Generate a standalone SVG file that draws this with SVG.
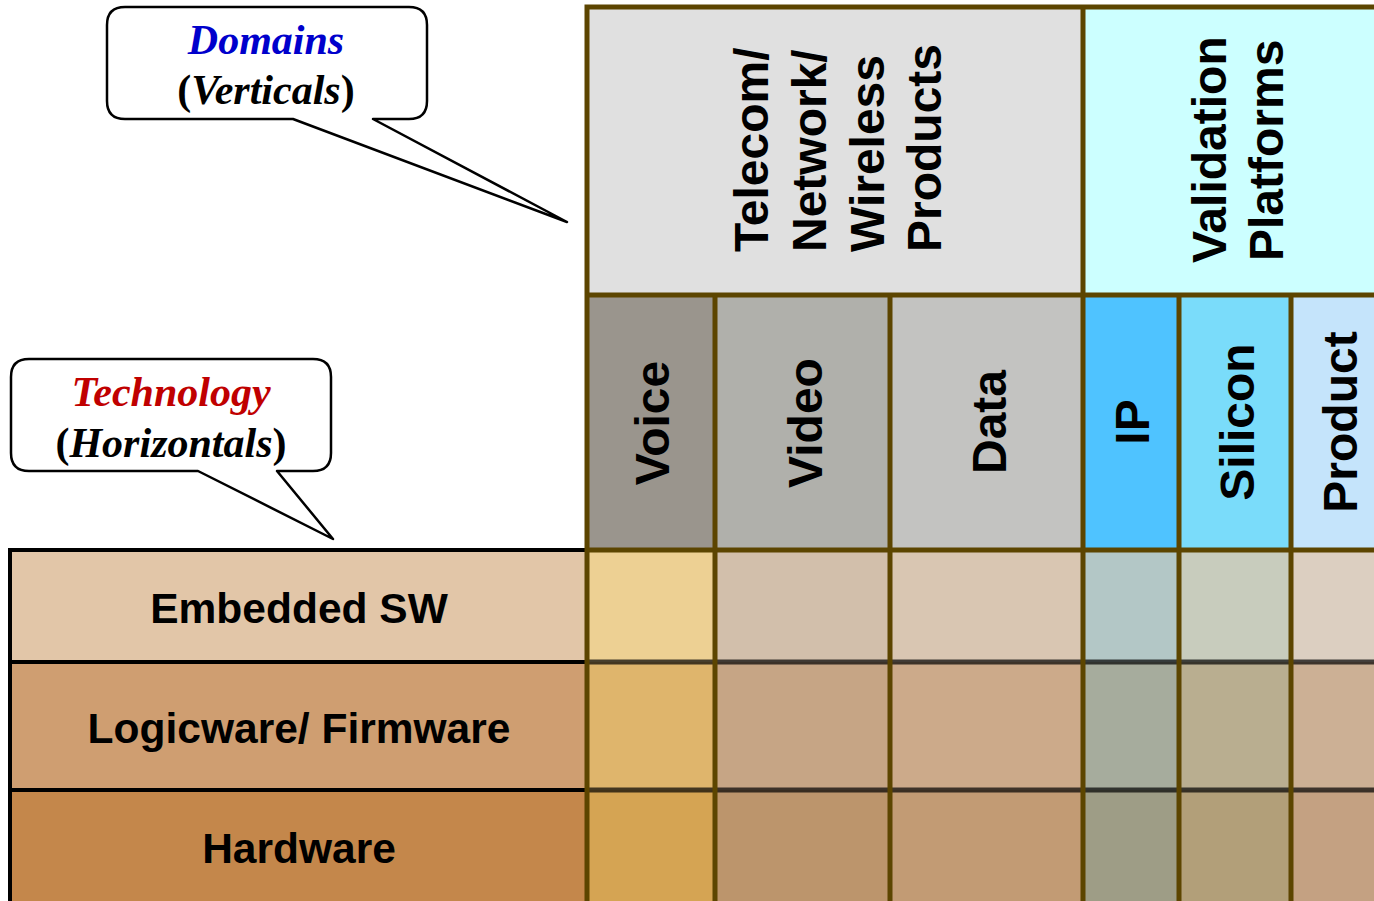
<svg xmlns="http://www.w3.org/2000/svg" width="1374" height="901" viewBox="0 0 1374 901">
<style>
.grid{stroke:#5c4500;stroke-width:5;fill:none}
.sep{stroke:#000;stroke-opacity:0.7;stroke-width:5}
.blk{stroke:#000;stroke-width:4;fill:none}
.vt{font-family:"Liberation Sans",Arial,sans-serif;font-weight:bold;font-size:48px;fill:#000}
.rt{font-family:"Liberation Sans",Arial,sans-serif;font-weight:bold;font-size:42.5px;fill:#000;text-anchor:middle}
.co{font-family:"Liberation Serif","Times New Roman",serif;font-weight:bold;font-style:italic;font-size:42px;text-anchor:middle}
.up{font-style:normal}
.bubble{fill:#fff;stroke:#000;stroke-width:2.5;stroke-linejoin:round}
</style>
<rect width="1374" height="901" fill="#fff"/>

<g id="header">
<rect x="587" y="7" width="496" height="288" fill="#e0e0e0"/>
<rect x="1083" y="7" width="291" height="288" fill="#ccffff"/>
<g class="vt">
<text transform="translate(768,252) rotate(-90)">Telecom/</text>
<text transform="translate(826,252) rotate(-90)">Network/</text>
<text transform="translate(884,252) rotate(-90)">Wireless</text>
<text transform="translate(941,252) rotate(-90)">Products</text>
<text transform="translate(1226,263) rotate(-90)">Validation</text>
<text transform="translate(1283,261) rotate(-90)">Platforms</text>
</g>
</g>

<g id="subheader">
<rect x="587" y="295" width="128" height="255" fill="#9a958d"/>
<rect x="715" y="295" width="175" height="255" fill="#b0b0ab"/>
<rect x="890" y="295" width="193" height="255" fill="#c3c3c1"/>
<rect x="1083" y="295" width="96" height="255" fill="#4fc3ff"/>
<rect x="1179" y="295" width="112" height="255" fill="#7adcfa"/>
<rect x="1291" y="295" width="83" height="255" fill="#c5e4fb"/>
<g class="vt" text-anchor="middle">
<text transform="translate(669,423) rotate(-90)">Voice</text>
<text transform="translate(822,423) rotate(-90)">Video</text>
<text transform="translate(1006,422) rotate(-90)">Data</text>
<text transform="translate(1149,422) rotate(-90)">IP</text>
<text transform="translate(1254,422) rotate(-90)">Silicon</text>
<text transform="translate(1357,422) rotate(-90)">Product</text>
</g>
</g>

<g id="cells">
<rect x="587" y="550" width="128" height="112" fill="#edd093"/>
<rect x="715" y="550" width="175" height="112" fill="#d2bfab"/>
<rect x="890" y="550" width="193" height="112" fill="#d9c6b2"/>
<rect x="1083" y="550" width="96" height="112" fill="#b3c7c6"/>
<rect x="1179" y="550" width="112" height="112" fill="#c8ccbd"/>
<rect x="1291" y="550" width="83" height="112" fill="#dccfc1"/>
<rect x="587" y="662" width="128" height="128" fill="#dfb56c"/>
<rect x="715" y="662" width="175" height="128" fill="#c6a585"/>
<rect x="890" y="662" width="193" height="128" fill="#ccaa8a"/>
<rect x="1083" y="662" width="96" height="128" fill="#a6ac9d"/>
<rect x="1179" y="662" width="112" height="128" fill="#b9ae90"/>
<rect x="1291" y="662" width="83" height="128" fill="#ccb095"/>
<rect x="587" y="790" width="128" height="111" fill="#d5a453"/>
<rect x="715" y="790" width="175" height="111" fill="#bc956c"/>
<rect x="890" y="790" width="193" height="111" fill="#c29b74"/>
<rect x="1083" y="790" width="96" height="111" fill="#9e9d86"/>
<rect x="1179" y="790" width="112" height="111" fill="#b29f79"/>
<rect x="1291" y="790" width="83" height="111" fill="#c4a182"/>
<line class="sep" x1="587" y1="662" x2="1374" y2="662"/>
<line class="sep" x1="587" y1="790" x2="1374" y2="790"/>
</g>

<g id="rows">
<rect id="row-embedded" x="10" y="550" width="577" height="112" fill="#e2c6a8"/>
<rect id="row-logicware" x="10" y="662" width="577" height="128" fill="#cf9e71"/>
<rect id="row-hardware" x="10" y="790" width="577" height="111" fill="#c4874b"/>
<text class="rt" x="299" y="623">Embedded SW</text>
<text class="rt" x="299" y="743">Logicware/ Firmware</text>
<text class="rt" x="299" y="863">Hardware</text>
<path class="blk" d="M10,901 V550 H587 M10,662 H587 M10,790 H587"/>
</g>

<g id="gridlines" class="grid">
<path d="M587,901 V7 H1374"/>
<path d="M1083,7 V901"/>
<path d="M587,295 H1374"/>
<path d="M587,550 H1374"/>
<path d="M715,295 V901 M890,295 V901 M1179,295 V901 M1291,295 V901"/>
</g>

<g id="callout-domains">
<path class="bubble" d="M125,7 H409 Q427,7 427,25 V101 Q427,119 409,119 H373 L567,222 L293,119 H125 Q107,119 107,101 V25 Q107,7 125,7 Z"/>
<text class="co" x="266" y="54" fill="#0000cc">Domains</text>
<text class="co" x="266" y="104" fill="#000"><tspan class="up">(</tspan>Verticals<tspan class="up">)</tspan></text>
</g>

<g id="callout-technology">
<path class="bubble" d="M29,359 H313 Q331,359 331,377 V453 Q331,471 313,471 H277 L333,539 L198,471 H29 Q11,471 11,453 V377 Q11,359 29,359 Z"/>
<text class="co" x="171" y="406" fill="#c00000">Technology</text>
<text class="co" x="171" y="457" fill="#000"><tspan class="up">(</tspan>Horizontals<tspan class="up">)</tspan></text>
</g>
</svg>
